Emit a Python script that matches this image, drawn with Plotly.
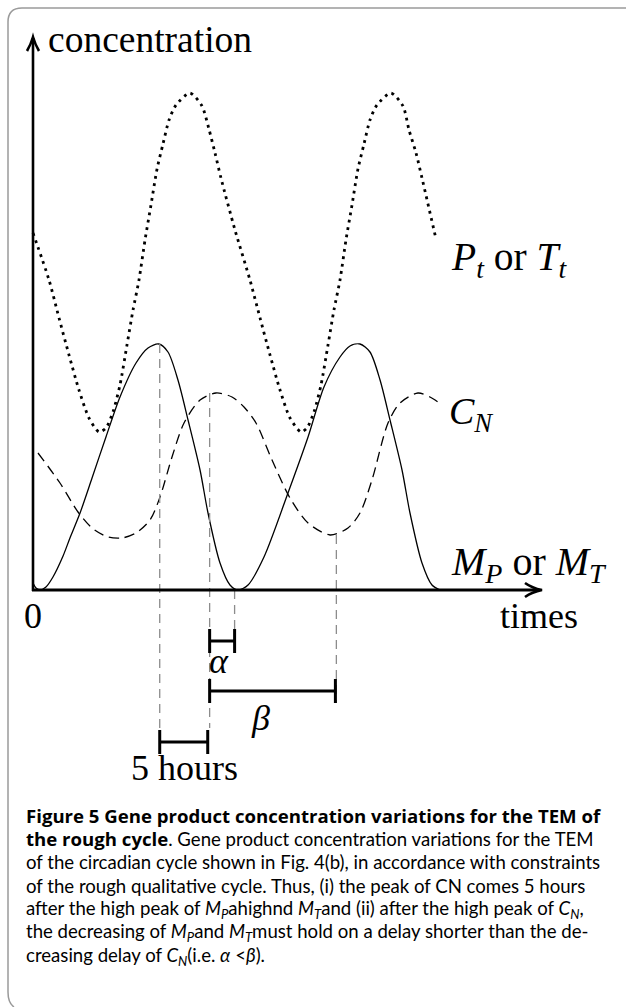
import plotly.graph_objects as go

# ---------------- data (time in hours, concentration in arbitrary units) ----------------
pt_time = [0.00, 1.67, 2.71, 3.75, 4.79, 5.83, 6.88,
           7.60, 8.33, 9.06, 9.79, 10.42, 11.04, 11.67, 12.29, 12.92, 13.54, 14.17, 14.90, 16.35,
           17.60, 18.30, 18.96, 19.58, 21.04, 22.60, 23.65, 24.69, 25.73, 26.77, 27.92,
           28.54, 29.27, 30.00, 30.73, 31.35, 31.98, 32.60, 33.23, 33.85, 34.48, 35.10, 35.83, 37.29,
           38.54, 39.17, 39.90, 40.52, 41.98]
pt_conc = [3.57, 3.10, 2.72, 2.35, 2.00, 1.72, 1.58,
           1.62, 1.78, 2.05, 2.45, 2.80, 3.10, 3.50, 3.85, 4.21, 4.46, 4.70, 4.85, 4.97,
           4.84, 4.62, 4.37, 4.12, 3.60, 3.10, 2.72, 2.35, 2.00, 1.72, 1.58,
           1.62, 1.78, 2.05, 2.45, 2.80, 3.10, 3.50, 3.85, 4.21, 4.46, 4.70, 4.85, 4.97,
           4.84, 4.60, 4.37, 4.12, 3.51]

m_time = [0.00, 0.31, 0.73, 1.35, 2.08, 3.13, 3.85, 4.90, 6.15, 7.60, 9.06, 10.73, 11.98,
          13.10, 14.06, 15.10, 16.15, 17.40, 18.23, 19.48, 20.52, 21.35, 22.40, 24.06,
          26.56, 28.65, 30.31, 31.98, 33.02, 34.06, 35.10, 36.15, 37.19, 38.44, 39.27,
          40.52, 41.56, 42.40]
m_conc = [0.07, 0.02, 0.00, 0.03, 0.13, 0.34, 0.52, 0.77, 1.12, 1.53, 1.93, 2.27, 2.42,
          2.46, 2.38, 2.10, 1.70, 1.20, 0.77, 0.27, 0.05, 0.00, 0.05, 0.33,
          0.97, 1.53, 2.03, 2.33, 2.44, 2.46, 2.38, 2.10, 1.70, 1.20, 0.77,
          0.27, 0.05, 0.00]

cn_time = [0.52, 2.81, 4.69, 6.15, 7.81, 9.27, 10.73, 12.19, 13.23, 14.48, 15.73, 17.40,
           19.06, 20.73, 21.98, 23.23, 24.90, 26.77, 28.65, 30.94, 32.81, 34.06, 35.31,
           36.98, 38.23, 40.10, 41.35, 42.19]
cn_conc = [1.37, 1.07, 0.78, 0.62, 0.53, 0.52, 0.57, 0.70, 0.93, 1.33, 1.67, 1.90,
           1.97, 1.93, 1.83, 1.67, 1.30, 0.92, 0.67, 0.55, 0.62, 0.77, 1.10,
           1.67, 1.87, 1.97, 1.93, 1.88]

guide_time = [13.2, 18.4, 21.0, 31.6]
guide_top = [2.46, 1.97, 0.00, 0.55]
guide_bottom = [-1.63, -1.38, -0.62, -1.13]

interval_labels = ["<i>α</i>", "<i>β</i>", "5 hours"]
interval_start = [18.4, 18.4, 13.2]
interval_end = [21.0, 31.5, 18.2]
interval_level = [-0.51, -1.01, -1.52]

BOLD = '<span style="font-family:Open Sans;font-weight:bold">'
caption_lines = [
    BOLD + "Figure 5 Gene product concentration variations for the TEM of</span>",
    BOLD + "the rough cycle</span>. Gene product concentration variations for the TEM",
    "of the circadian cycle shown in Fig. 4(b), in accordance with constraints",
    "of the rough qualitative cycle. Thus, (i) the peak of CN comes 5 hours",
    "after the high peak of <i>M</i><sub><i>P</i></sub>ahighnd <i>M</i><sub><i>T</i></sub>and (ii) after the high peak of <i>C</i><sub><i>N</i></sub>,",
    "the decreasing of <i>M</i><sub><i>P</i></sub>and <i>M</i><sub><i>T</i></sub>must hold on a delay shorter than the de-",
    "creasing delay of <i>C</i><sub><i>N</i></sub>(i.e. <i>α</i> &lt;<i>β</i>).",
]

# ---------------- layout helpers (page pixels -> axis units) ----------------
W, H = 626, 1007
X0, Y0 = 33, 590          # pixel position of the origin
PXH, PXC = 9.6, 100.0     # pixels per hour, pixels per concentration unit


def hx(px):
    return (px - X0) / PXH


def cy(py):
    return (Y0 - py) / PXC


SERIF = "Liberation Serif"
SANS = "Lato"

fig = go.Figure()

# curves
fig.add_trace(go.Scatter(x=pt_time, y=pt_conc, mode="lines",
                         line=dict(color="black", width=2.8, dash="2.8px,4.6px",
                                   shape="spline", smoothing=0.7)))
fig.add_trace(go.Scatter(x=cn_time, y=cn_conc, mode="lines",
                         line=dict(color="black", width=1.3, dash="10px,6px",
                                   shape="spline", smoothing=0.8)))
fig.add_trace(go.Scatter(x=m_time, y=m_conc, mode="lines",
                         line=dict(color="black", width=1.3,
                                   shape="spline", smoothing=0.8)))

# grey guide lines
for t, top, bot in zip(guide_time, guide_top, guide_bottom):
    fig.add_trace(go.Scatter(x=[t, t], y=[top, bot], mode="lines",
                             line=dict(color="#8c8c8c", width=1.3, dash="9px,6px")))

# interval bars
TICK = 0.12
for s, e, lv in zip(interval_start, interval_end, interval_level):
    fig.add_trace(go.Scatter(x=[s, e, None, s, s, None, e, e],
                             y=[lv, lv, None, lv - TICK, lv + TICK, None, lv - TICK, lv + TICK],
                             mode="lines", line=dict(color="black", width=3)))

# axes (arrows)
shapes = []
shapes.append(dict(type="line", xref="x", yref="y", x0=0, y0=cy(Y0 + 1), x1=0, y1=cy(38),
                   line=dict(color="black", width=2.6)))
shapes.append(dict(type="line", xref="x", yref="y", x0=hx(X0 - 1), y0=0, x1=hx(539), y1=0,
                   line=dict(color="black", width=3)))
# arrow heads
shapes.append(dict(type="path", xref="x", yref="y",
                   path=f"M {hx(27)},{cy(51)} Q {hx(31)},{cy(44)} {hx(33)},{cy(37)} "
                        f"Q {hx(35)},{cy(44)} {hx(39)},{cy(51)}",
                   line=dict(color="black", width=2.6)))
shapes.append(dict(type="path", xref="x", yref="y",
                   path=f"M {hx(525)},{cy(583)} Q {hx(532)},{cy(588)} {hx(542)},{cy(590)} "
                        f"Q {hx(532)},{cy(592)} {hx(525)},{cy(597)}",
                   line=dict(color="black", width=2.6)))
# frame (top and left edges with rounded corner)
shapes.append(dict(type="path", xref="x", yref="y",
                   path=f"M {hx(626)},{cy(8)} L {hx(22)},{cy(8)} Q {hx(8)},{cy(8)} {hx(8)},{cy(22)} "
                        f"L {hx(8)},{cy(992)} Q {hx(8)},{cy(1003)} {hx(14)},{cy(1007)}",
                   line=dict(color="#9a9a9a", width=1.5)))

ann = []


def label(txt, px, py, size, xanchor="left", family=SERIF, yanchor="middle"):
    ann.append(dict(x=hx(px), y=cy(py), xref="x", yref="y", text=txt, showarrow=False,
                    xanchor=xanchor, yanchor=yanchor,
                    font=dict(family=family, size=size, color="black")))


label("concentration", 46, 39, 37.5)
label("0", 33, 616, 36, xanchor="center")
label("times", 498, 616, 36)
label("<i>P</i><sub><i>t</i></sub> or <i>T</i><sub><i>t</i></sub>", 449, 259, 39.5)
label("<i>C</i><sub><i>N</i></sub>", 447, 414, 38)
label("<i>M</i><sub><i>P</i></sub> or <i>M</i><sub><i>T</i></sub>", 449, 564, 40)

label_pos = [(219, 661), (260, 718), (184, 768)]
for txt, (px, py) in zip(interval_labels, label_pos):
    label(txt, px, py, 36, xanchor="center")

for i, line in enumerate(caption_lines):
    label(line, 24, 815 + 23.5 * i, 18.6, family=SANS)

fig.update_layout(
    width=W, height=H, autosize=False,
    margin=dict(l=0, r=0, t=0, b=0, pad=0),
    paper_bgcolor="white", plot_bgcolor="white",
    showlegend=False,
    xaxis=dict(range=[hx(0), hx(W)], visible=False, fixedrange=True),
    yaxis=dict(range=[cy(H), cy(0)], visible=False, fixedrange=True),
    shapes=shapes, annotations=ann,
)

fig.write_html("out.html", config={"displayModeBar": False},
               post_script="document.body.style.margin='0';document.body.style.overflow='hidden';")
